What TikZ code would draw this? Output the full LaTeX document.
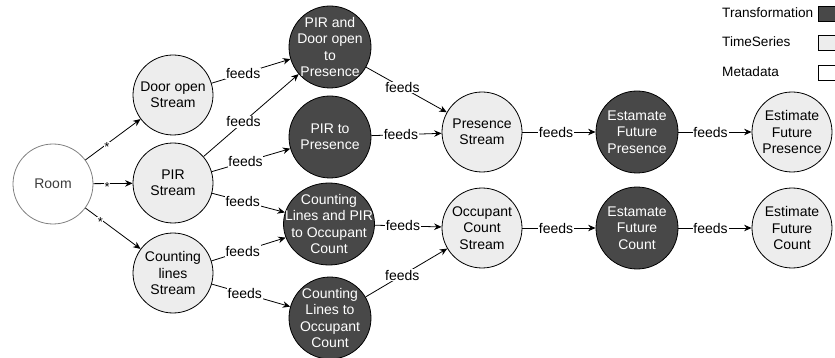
\documentclass[tikz,border=0pt]{standalone}
\usepackage{fontspec}
\setmainfont{Liberation Sans}
\usetikzlibrary{arrows.meta,shapes.geometric}
\definecolor{darkfill}{RGB}{72,72,72}
\definecolor{lightfill}{RGB}{237,237,237}
\definecolor{metaline}{RGB}{128,128,128}
\definecolor{metatext}{RGB}{60,60,60}
\tikzset{
  base/.style={circle, draw=black, line width=0.8pt, inner sep=0pt, minimum size=80pt},
  ts/.style={base, fill=lightfill},
  tr/.style={base, fill=darkfill, minimum size=82pt},
  trwide/.style={ellipse, draw=black, line width=0.8pt, inner sep=0pt, fill=darkfill, minimum width=91pt, minimum height=82pt},
  meta/.style={base, draw=metaline},
  txt/.style={align=center, inner sep=0pt, font=\fontsize{14}{16.3}\selectfont},
  wtxt/.style={txt, text=white},
  mtxt/.style={txt, text=metatext},
  lbl/.style={fill=white, inner sep=0.8pt, font=\fontsize{14}{16}\selectfont},
  starlbl/.style={fill=white, inner sep=0.6pt, font=\fontsize{13}{14}\selectfont, yshift=-3pt},
  arr/.style={-{Stealth[length=7.5pt,width=6.5pt,inset=2.5pt]}, line width=0.8pt},
  legtext/.style={anchor=west, inner sep=0pt, font=\fontsize{13.6}{16}\selectfont},
  legbox/.style={draw=black, line width=0.8pt, anchor=west, minimum width=24pt, minimum height=15pt, inner sep=0pt},
}
\begin{document}
\begin{tikzpicture}[x=1pt,y=-1pt]
\useasboundingbox (0,0) rectangle (835,358);
\clip (0,0) rectangle (835,358);
% circles
\node[meta] (room) at (53,184) {};
\node[ts] (door) at (173,95) {};
\node[ts] (pir) at (173,183) {};
\node[ts] (cnt) at (173,273) {};
\node[tr] (pd) at (330,47) {};
\node[tr] (pp) at (330,137) {};
\node[trwide] (cl) at (329,224) {};
\node[tr] (clo) at (330,318) {};
\node[ts] (ps) at (482,132) {};
\node[ts] (ocs) at (482,228) {};
\node[tr] (efp) at (637,132) {};
\node[tr] (efc) at (637,228) {};
\node[ts] (efp2) at (792,132) {};
\node[ts] (efc2) at (792,228) {};
% texts
\node[mtxt] (roomt) at (room) {Room};
\node[txt] (doort) at (door) {Door open\\Stream};
\node[txt] (pirt) at (pir) {PIR\\Stream};
\node[txt] (cntt) at (cnt) {Counting\\lines\\Stream};
\node[wtxt] (pdt) at (pd) {PIR and\\Door open\\to\\Presence};
\node[wtxt] (ppt) at (pp) {PIR to\\Presence};
\node[wtxt] (clt) at (cl) {Counting\\Lines and PIR\\to Occupant\\Count};
\node[wtxt] (clot) at (clo) {Counting\\Lines to\\Occupant\\Count};
\node[txt] (pst) at (ps) {Presence\\Stream};
\node[txt] (ocst) at (ocs) {Occupant\\Count\\Stream};
\node[wtxt] (efpt) at (efp) {Estamate\\Future\\Presence};
\node[wtxt] (efct) at (efc) {Estamate\\Future\\Count};
\node[txt] (efp2t) at (efp2) {Estimate\\Future\\Presence};
\node[txt] (efc2t) at (efc2) {Estimate\\Future\\Count};
% legend
\node[legtext] (lt) at (722,12.3) {Transformation};
\node[legtext] (lts) at (722,41.7) {TimeSeries};
\node[legtext] (lm) at (722,71.7) {Metadata};
\node[legbox, fill=darkfill] (bt) at (818,14) {};
\node[legbox, fill=lightfill] (bts) at (818,43) {};
\node[legbox, fill=white] (bm) at (818,73) {};
% edges from room
\draw[arr] (room) -- node[starlbl, pos=0.39] {*} (door);
\draw[arr] (room) -- node[starlbl, pos=0.35] {*} (pir);
\draw[arr] (room) -- node[starlbl, pos=0.27] {*} (cnt);
% feeds
\draw[arr] (door) -- node[lbl, pos=0.4] {feeds} (pd);
\draw[arr] (pir) -- node[lbl, pos=0.42] {feeds} (pd);
\draw[arr] (pir) -- node[lbl, pos=0.43] {feeds} (pp);
\draw[arr] (pir) -- node[lbl, pos=0.42] {feeds} (cl);
\draw[arr] (cnt) -- node[lbl, pos=0.42] {feeds} (cl);
\draw[arr] (cnt) -- node[lbl, pos=0.42] {feeds} (clo);
\draw[arr] (pd) -- node[lbl, pos=0.45] {feeds} (ps);
\draw[arr] (pp) -- node[lbl, pos=0.42] {feeds} (ps);
\draw[arr] (cl) -- node[lbl, pos=0.42] {feeds} (ocs);
\draw[arr] (clo) -- node[lbl, pos=0.45] {feeds} (ocs);
\draw[arr] (ps) -- node[lbl, pos=0.46] {feeds} (efp);
\draw[arr] (efp) -- node[lbl, pos=0.44] {feeds} (efp2);
\draw[arr] (ocs) -- node[lbl, pos=0.46] {feeds} (efc);
\draw[arr] (efc) -- node[lbl, pos=0.44] {feeds} (efc2);
\end{tikzpicture}
\end{document}
